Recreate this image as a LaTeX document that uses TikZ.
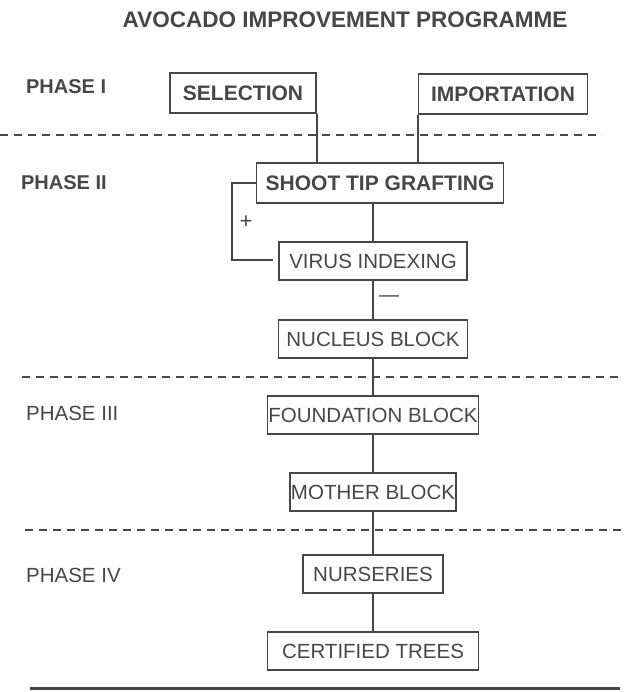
\documentclass[tikz,border=0pt]{standalone}
\usepackage{fontspec}
\setmainfont{Liberation Sans}
\usetikzlibrary{positioning}

\begin{document}
\begin{tikzpicture}[x=1pt,y=-1pt,line width=1.6pt,color=black!72,
                    box/.style={draw,rectangle,inner sep=1pt,minimum height=38pt,
                                font=\fontsize{20.5}{24}\selectfont},
                    bbox/.style={box,minimum height=40pt,
                                font=\fontsize{21}{25}\selectfont\bfseries},
                    phase/.style={anchor=west,font=\fontsize{20.5}{24}\selectfont},
                    bphase/.style={phase,font=\fontsize{20}{24}\selectfont\bfseries},
                    divider/.style={dash pattern=on 8pt off 6pt,line width=1.4pt}]
	\useasboundingbox (0,0) rectangle (624,692);
	\node[font=\fontsize{22.5}{26}\selectfont\bfseries]	(title)	at (345,20)	{AVOCADO IMPROVEMENT PROGRAMME};
	% phase labels
	\node[bphase]	(p1)	at (22,87)	{PHASE I};
	\node[bphase]	(p2)	at (17,183)	{PHASE II};
	\node[phase]	(p3)	at (22,413)	{PHASE III};
	\node[phase]	(p4)	at (22,575)	{PHASE IV};
	% boxes
	\node[bbox,minimum width=146pt]	(sel)	at (243,93)	{SELECTION};
	\node[bbox,minimum width=169pt]	(imp)	at (503,94)	{IMPORTATION};
	\node[bbox,minimum width=247pt]	(stg)	at (380,183)	{SHOOT TIP GRAFTING};
	\node[box,minimum width=188pt]	(vir)	at (373,261)	{VIRUS INDEXING};
	\node[box,minimum width=189pt]	(nuc)	at (373,339)	{NUCLEUS BLOCK};
	\node[box,minimum width=210pt]	(fnd)	at (373,415)	{FOUNDATION BLOCK};
	\node[box,minimum width=166pt]	(mot)	at (373,492)	{MOTHER BLOCK};
	\node[box,minimum width=140pt]	(nur)	at (373,574)	{NURSERIES};
	\node[box,minimum width=211pt]	(cer)	at (373,651)	{CERTIFIED TREES};
	\node[font=\fontsize{22}{24}\selectfont]	(plus)	at (246,222)	{+};
	\node[font=\fontsize{20}{24}\selectfont]	(minus)	at (389,299)	{—};
	\coordinate	(fb)	at (273,260);
	% phase dividers
	\draw[divider]	(0,135) -- (602,135);
	\draw[divider]	(22,377) -- (622,377);
	\draw[divider]	(25,530) -- (622,530);
	\draw[line width=3pt]	(30,688) -- (620,688);
	% connectors
	\path	(sel.south east)	edge	(sel.south east |- stg.north)
			(imp.south west)	edge	(imp.south west |- stg.north)
			(vir.north |- stg.south)	edge	(vir.north)
			(vir)	edge	(nuc)
			(nuc)	edge	(fnd)
			(fnd)	edge	(mot)
			(mot)	edge	(nur)
			(nur)	edge	(cer);
	\draw	(stg.west) -- ++(-24,0) |- (fb);
\end{tikzpicture}
\end{document}
